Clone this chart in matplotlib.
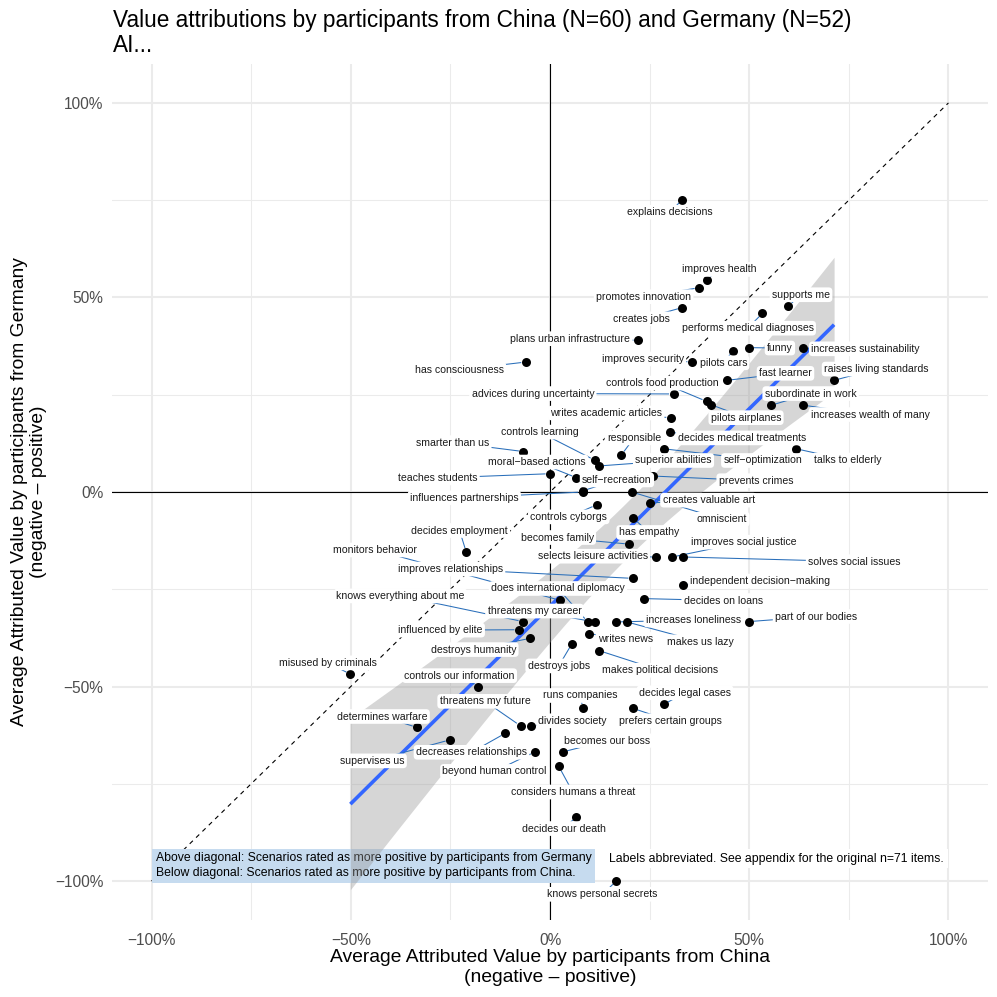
import numpy as np
import matplotlib
matplotlib.use("Agg")
import matplotlib.pyplot as plt
from matplotlib.ticker import FuncFormatter, FixedLocator

plt.rcParams['font.family'] = ['Liberation Sans', 'DejaVu Sans']

# ---------------- data ----------------
labels = [
    "explains decisions", "improves health", "promotes innovation", "creates jobs", "supports me",
    "performs medical diagnoses", "plans urban infrastructure", "has consciousness", "funny", "pilots cars",
    "increases sustainability", "improves security", "fast learner", "raises living standards", "controls food production",
    "advices during uncertainty", "subordinate in work", "increases wealth of many", "pilots airplanes", "writes academic articles",
    "decides medical treatments", "responsible", "smarter than us", "controls learning", "moral\u2212based actions",
    "superior abilities", "self\u2212optimization", "talks to elderly", "teaches students", "prevents crimes",
    "self\u2212recreation", "influences partnerships", "creates valuable art", "omniscient", "controls cyborgs",
    "has empathy", "becomes family", "decides employment", "monitors behavior", "selects leisure activities",
    "improves social justice", "solves social issues", "improves relationships", "independent decision\u2212making", "does international diplomacy",
    "decides on loans", "knows everything about me", "threatens my career", "influenced by elite", "increases loneliness",
    "writes news", "makes us lazy", "part of our bodies", "destroys humanity", "destroys jobs",
    "makes political decisions", "misused by criminals", "controls our information", "runs companies", "decides legal cases",
    "threatens my future", "divides society", "prefers certain groups", "determines warfare", "decreases relationships",
    "supervises us", "beyond human control", "becomes our boss", "considers humans a threat", "decides our death",
    "knows personal secrets",
]

china = [
    33.2, 39.3, 37.4, 33.2, 59.8, 53.3, 22.1, -6.1, 50.0, 46.0,
    63.6, 35.6, 44.4, 71.3, 39.3, 31.0, 55.5, 63.6, 40.5, 30.3,
    30.0, 17.9, -6.7, 11.2, 6.6, 12.4, 28.6, 61.8, 0.0, 25.9,
    8.2, 8.2, 25.0, 20.5, 11.7, 20.8, 19.9, -21.0, 2.4, 26.7,
    30.7, 33.3, 20.8, 33.3, 9.5, 23.7, -6.8, 11.2, -7.8, 16.6,
    9.9, 19.3, 50.0, -4.9, 5.5, 12.4, -50.1, -18.0, 8.2, 28.5,
    -7.4, -4.7, 20.8, -33.4, -11.2, -25.1, -3.8, 3.2, 2.2, 6.6,
    16.6,
]

germany = [
    75.1, 54.5, 52.5, 47.4, 47.8, 45.9, 39.0, 33.4, 37.1, 36.3,
    36.9, 33.4, 28.7, 28.7, 23.3, 25.2, 22.3, 22.3, 22.4, 19.1,
    15.3, 9.5, 10.4, 8.2, 3.7, 6.7, 11.1, 11.1, 4.7, 4.1,
    0.3, 0.0, -2.8, 0.0, -3.3, -6.6, -13.4, -15.5, -27.8, -16.7,
    -16.7, -16.7, -22.2, -23.8, -33.4, -27.4, -33.3, -33.4, -35.4, -33.4,
    -36.4, -33.4, -33.3, -37.6, -39.0, -40.8, -46.8, -50.0, -55.6, -54.6,
    -60.1, -60.1, -55.6, -60.5, -62.0, -63.7, -66.8, -66.8, -70.5, -83.5,
    -100.0,
]

tick_values = [-100, -50, 0, 50, 100]
minor_values = [-75, -25, 25, 75]
diagonal = [-100, 100]

# ---------------- layout (repelled label positions, data units) ----------------
label_pos = [
    (30.0, 71.9), (42.5, 57.2), (23.5, 50.2), (23.0, 44.5), (63.0, 50.7),
    (49.6, 42.1), (5.1, 39.4), (-22.7, 31.4), (57.7, 37.0), (43.5, 33.2),
    (79.2, 36.8), (23.3, 34.2), (59.1, 30.5), (81.9, 31.6), (28.3, 28.0),
    (-4.3, 25.3), (65.4, 25.3), (80.4, 19.9), (49.2, 19.1), (14.1, 20.3),
    (48.2, 13.9), (21.1, 13.9), (-24.4, 12.7), (-2.6, 15.4), (-3.2, 7.7),
    (31.0, 8.1), (53.4, 8.1), (74.7, 8.2), (-28.2, 3.6), (51.7, 2.9),
    (16.8, 3.1), (-21.5, -1.5), (39.8, -2.1), (43.2, -7.0), (4.7, -6.4),
    (24.8, -10.4), (1.8, -11.7), (-22.7, -9.9), (-43.9, -14.9), (10.7, -16.5),
    (48.6, -12.9), (76.4, -17.9), (-25.0, -19.8), (52.8, -22.9), (2.0, -24.8),
    (43.5, -27.9), (-37.5, -26.7), (-3.9, -30.6), (-27.5, -35.5), (36.0, -32.9),
    (18.9, -37.9), (37.8, -38.5), (66.8, -32.0), (-19.2, -40.5), (2.2, -44.7),
    (27.5, -45.8), (-55.8, -43.9), (-22.7, -47.2), (7.7, -52.3), (33.9, -51.6),
    (-16.3, -53.8), (5.7, -58.8), (30.2, -58.8), (-42.1, -57.7), (-19.7, -66.9),
    (-44.6, -69.1), (-13.9, -71.8), (14.4, -63.9), (5.7, -77.1), (3.4, -86.5),
    (13.2, -103.4),
]

# ---------------- figure ----------------
W = H = 997
fig = plt.figure(figsize=(W / 100, H / 100), dpi=100)
ax = fig.add_axes([111.7 / W, 1 - 920 / H, (988.3 - 111.7) / W, (920 - 64) / H])
ax.set_xlim(-110, 110)
ax.set_ylim(-110, 110)
for s in ax.spines.values():
    s.set_visible(False)

ax.xaxis.set_major_locator(FixedLocator(tick_values))
ax.yaxis.set_major_locator(FixedLocator(tick_values))
ax.xaxis.set_minor_locator(FixedLocator(minor_values))
ax.yaxis.set_minor_locator(FixedLocator(minor_values))
fmt = FuncFormatter(lambda v, p: ("\u2212" if v < 0 else "") + f"{abs(v):.0f}%")
ax.xaxis.set_major_formatter(fmt)
ax.yaxis.set_major_formatter(fmt)
ax.tick_params(which='both', length=0)
ax.tick_params(axis='x', pad=9, labelsize=11.2, labelcolor='#4D4D4D')
ax.tick_params(axis='y', pad=6, labelsize=11.2, labelcolor='#4D4D4D')
ax.grid(which='major', color='#EBEBEB', lw=1.5, zorder=0)
ax.grid(which='minor', color='#EBEBEB', lw=0.75, zorder=0)
ax.set_axisbelow(True)

ax.axhline(0, color='black', lw=0.8, zorder=1)
ax.axvline(0, color='black', lw=0.8, zorder=1)
ax.plot(diagonal, diagonal, color='black', lw=0.8, ls=(0, (4, 4)), zorder=1.1)

# annotation box (under the smoother band)
ax.text(-98.9, -96.0,
        "Above diagonal: Scenarios rated as more positive by participants from Germany\n"
        "Below diagonal: Scenarios rated as more positive by participants from China.",
        ha='left', va='center', fontsize=8.8, linespacing=1.3, color='black', zorder=1.5,
        bbox=dict(boxstyle='square,pad=0.3', fc='#c6dbef', ec='none'))

# linear fit with 95% confidence band
xa = np.asarray(china, float)
ya = np.asarray(germany, float)
n = len(xa)
b1, b0 = np.polyfit(xa, ya, 1)
resid = ya - (b0 + b1 * xa)
s = np.sqrt(np.sum(resid ** 2) / (n - 2))
sxx = np.sum((xa - xa.mean()) ** 2)
xs = np.linspace(xa.min(), xa.max(), 200)
ys = b0 + b1 * xs
se = s * np.sqrt(1 / n + (xs - xa.mean()) ** 2 / sxx)
tq = 1.995
ax.fill_between(xs, ys - tq * se, ys + tq * se, color='#999999', alpha=0.4, lw=0, zorder=2)
ax.plot(xs, ys, color='#3366FF', lw=2.6, zorder=2.5, solid_capstyle='butt')

ax.scatter(xa, ya, s=42, color='black', zorder=3, linewidths=0)

# segments + labels
fig.canvas.draw()
tr = ax.transData
inv = tr.inverted()
for (px, py), (lx, ly), lab in zip(zip(china, germany), label_pos, labels):
    p = tr.transform((px, py))
    l = tr.transform((lx, ly))
    d = l - p
    dist = np.hypot(*d)
    if dist > 6:
        start = p + d / dist * 5
        a = inv.transform(start)
        ax.plot([a[0], lx], [a[1], ly], color='#2a6fba', lw=0.75, zorder=2.8)
    ax.text(lx, ly, lab, ha='center', va='center', fontsize=7.6, color='#1a1a1a', zorder=4,
            bbox=dict(boxstyle='round,pad=0.22,rounding_size=0.35', fc='white', ec='none'))

ax.text(56.9, -94.2, "Labels abbreviated. See appendix for the original n=71 items.",
        ha='center', va='center', fontsize=8.8, color='black', zorder=4,
        bbox=dict(boxstyle='square,pad=0.3', fc='white', ec='none'))

# titles
fig.text(113 / W, 1 - 9 / H,
         "Value attributions by participants from China (N=60) and Germany (N=52)\nAI...",
         ha='left', va='top', fontsize=16.3, linespacing=1.12, color='black')
fig.text(550 / W, 1 - 967.5 / H,
         "Average Attributed Value by participants from China\n(negative \u2013 positive)",
         ha='center', va='center', fontsize=13.9, linespacing=1.18, color='black')
fig.text(29 / W, 1 - 492 / H,
         "Average Attributed Value by participants from Germany\n(negative \u2013 positive)",
         ha='center', va='center', rotation=90, fontsize=13.9, linespacing=1.22, color='black')

fig.savefig("out.png", dpi=100, facecolor='white')
